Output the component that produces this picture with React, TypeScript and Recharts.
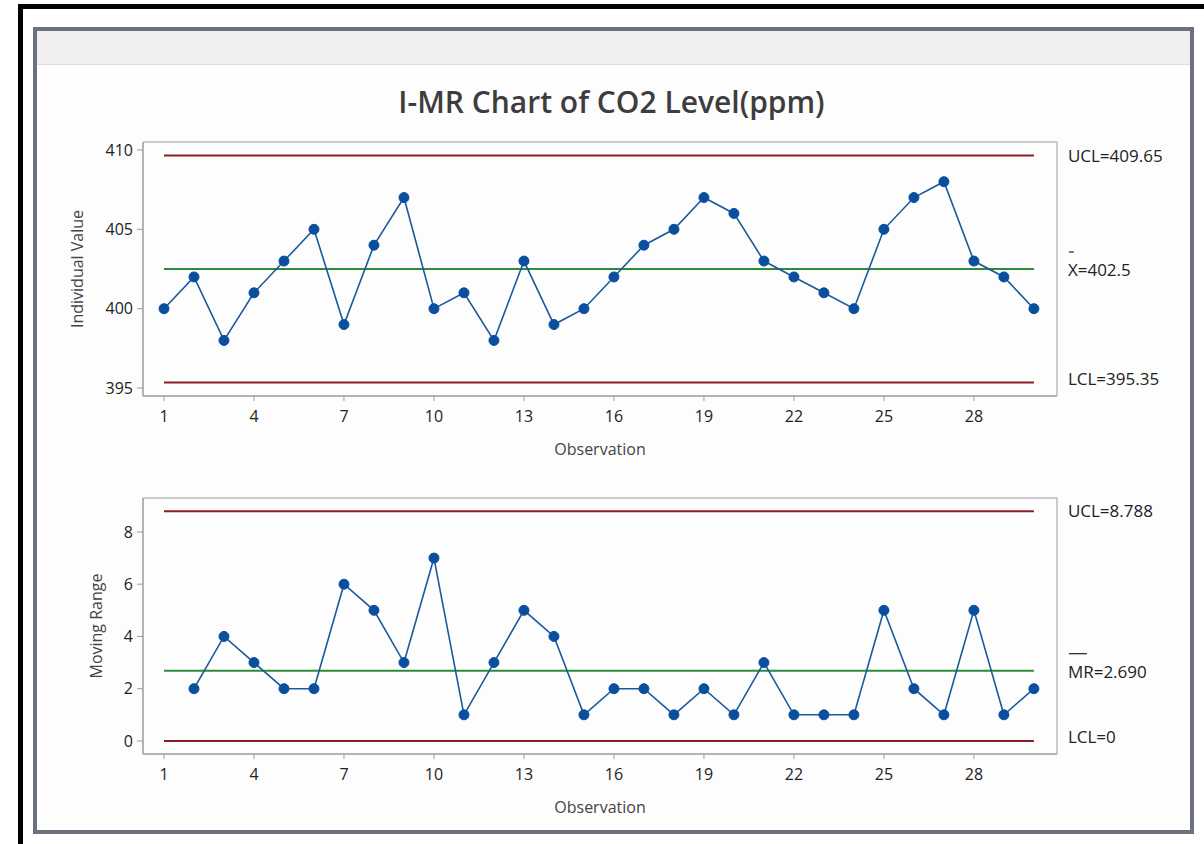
import React from "react";
import { LineChart, Line, XAxis, YAxis, ReferenceLine, ReferenceArea } from "recharts";

const FONT = "'Open Sans', 'Noto Sans', sans-serif";

// CO2 readings (ppm), one per observation
const individualValues = [
  400, 402, 398, 401, 403, 405, 399, 404, 407, 400,
  401, 398, 403, 399, 400, 402, 404, 405, 407, 406,
  403, 402, 401, 400, 405, 407, 408, 403, 402, 400,
];

// moving ranges; the first observation has none
const movingRanges = [
  null, 2, 4, 3, 2, 2, 6, 5, 3, 7,
  1, 3, 5, 4, 1, 2, 2, 1, 2, 1,
  3, 1, 1, 1, 5, 2, 1, 5, 1, 2,
];

const observationTicks = [1, 4, 7, 10, 13, 16, 19, 22, 25, 28];
const individualTicks = [395, 400, 405, 410];
const rangeTicks = [0, 2, 4, 6, 8];

const individualLimits = { ucl: 409.65, center: 402.5, lcl: 395.35 };
const rangeLimits = { ucl: 8.788, center: 2.69, lcl: 0 };

const xDomain: [number, number] = [0.3, 30.77];
const individualDomain: [number, number] = [394.5, 410.5];
const rangeDomain: [number, number] = [-0.5, 9.3];

const firstObs = 1;
const lastObs = individualValues.length;

const individualRows = individualValues.map((value, i) => ({ obs: i + 1, value }));
const rangeRows = movingRanges.map((value, i) => ({ obs: i + 1, value }));

const LIMIT_RED = "#8d1c26";
const CENTER_GREEN = "#2e8b3a";
const SERIES_BLUE = "#1b5a9a";
const DOT_BLUE = "#0a4f9e";
const FRAME_GRAY = "#9c9c9c";

function LimitLabel(props: any) {
  const { viewBox, text, bar = 0, dy = 0 } = props;
  if (!viewBox) return null;
  const x = viewBox.x + viewBox.width + 34;
  const y = viewBox.y + viewBox.height / 2 + dy;
  return (
    <g>
      {bar > 0 && (
        <line x1={x + 1} x2={x + 1 + bar} y1={y - 18} y2={y - 18} stroke="#333" strokeWidth={1.3} />
      )}
      <text x={x} y={y} dy="0.36em" fontSize={17} fill="#222" fontFamily={FONT}>
        {text}
      </text>
    </g>
  );
}

function VerticalTitle(props: any) {
  const { viewBox, text, cx } = props;
  if (!viewBox) return null;
  const cy = viewBox.y + viewBox.height / 2;
  return (
    <text
      x={cx}
      y={cy}
      dy="0.36em"
      transform={`rotate(-90 ${cx} ${cy})`}
      textAnchor="middle"
      fontSize={16}
      fill="#444"
      fontFamily={FONT}
    >
      {text}
    </text>
  );
}

function BottomTitle(props: any) {
  const { viewBox, text } = props;
  if (!viewBox) return null;
  const x = viewBox.x + viewBox.width / 2;
  const y = viewBox.y + 53;
  return (
    <text x={x} y={y} dy="0.36em" textAnchor="middle" fontSize={16} fill="#444" fontFamily={FONT}>
      {text}
    </text>
  );
}

const tickStyle = { fontSize: 16, fill: "#222", fontFamily: FONT };

interface PanelProps {
  rows: { obs: number; value: number | null }[];
  yDomain: [number, number];
  yTicks: number[];
  limits: { ucl: number; center: number; lcl: number };
  yTitle: string;
  yTitleX: number;
  xAxisHeight: number;
  digits: number;
  centerName: string;
  centerBar: number;
}

function ControlPanel({
  rows, yDomain, yTicks, limits, yTitle, yTitleX, xAxisHeight, digits, centerName, centerBar,
}: PanelProps) {
  const fmt = (v: number) => (digits > 0 && v !== 0 ? v.toFixed(digits) : String(v));
  return (
    <LineChart width={1204} height={340} data={rows} margin={{ top: 12, right: 147, bottom: 0, left: 0 }}>
      <ReferenceArea
        x1={xDomain[0]}
        x2={xDomain[1]}
        y1={yDomain[0]}
        y2={yDomain[1]}
        fill="none"
        stroke={FRAME_GRAY}
        strokeWidth={1}
        ifOverflow="visible"
      />
      <XAxis
        dataKey="obs"
        type="number"
        domain={xDomain}
        ticks={observationTicks}
        allowDataOverflow
        height={xAxisHeight}
        tick={tickStyle}
        tickSize={5}
        tickMargin={10}
        stroke={FRAME_GRAY}
        label={<BottomTitle text="Observation" />}
      />
      <YAxis
        type="number"
        domain={yDomain}
        ticks={yTicks}
        allowDataOverflow
        width={143}
        tick={tickStyle}
        tickSize={6}
        tickMargin={4}
        stroke={FRAME_GRAY}
        label={<VerticalTitle text={yTitle} cx={yTitleX} />}
      />
      <ReferenceLine
        segment={[{ x: firstObs, y: limits.ucl }, { x: lastObs, y: limits.ucl }]}
        stroke={LIMIT_RED}
        strokeWidth={2}
        label={<LimitLabel text={`UCL=${fmt(limits.ucl)}`} />}
      />
      <ReferenceLine
        segment={[{ x: firstObs, y: limits.center }, { x: lastObs, y: limits.center }]}
        stroke={CENTER_GREEN}
        strokeWidth={2}
        label={<LimitLabel text={`${centerName}=${fmt(limits.center)}`} bar={centerBar} dy={1} />}
      />
      <ReferenceLine
        segment={[{ x: firstObs, y: limits.lcl }, { x: lastObs, y: limits.lcl }]}
        stroke={LIMIT_RED}
        strokeWidth={2}
        label={<LimitLabel text={`LCL=${fmt(limits.lcl)}`} dy={-4} />}
      />
      <Line
        type="linear"
        dataKey="value"
        stroke={SERIES_BLUE}
        strokeWidth={1.6}
        dot={{ r: 5, fill: DOT_BLUE, stroke: DOT_BLUE, strokeWidth: 1 }}
        activeDot={false}
        connectNulls={false}
        isAnimationActive={false}
      />
    </LineChart>
  );
}

export default function App() {
  return (
    <div
      style={{
        position: "absolute",
        left: 0,
        top: 0,
        width: 1204,
        height: 844,
        background: "#ffffff",
        fontFamily: FONT,
        overflow: "hidden",
      }}
    >
      {/* outer black edge */}
      <div
        style={{
          position: "absolute",
          left: 18,
          top: 4,
          width: 1186,
          height: 840,
          borderLeft: "5px solid #000",
          borderTop: "5px solid #000",
          boxSizing: "border-box",
        }}
      />
      {/* window frame with header strip */}
      <div
        style={{
          position: "absolute",
          left: 33,
          top: 27,
          width: 1161,
          height: 807,
          border: "4px solid #6c727d",
          boxSizing: "border-box",
          background: "#fdfdfe",
        }}
      >
        <div style={{ height: 33, background: "#f0f0f2", borderBottom: "1px solid #dedee2" }} />
      </div>
      <div
        style={{
          position: "absolute",
          left: 0,
          top: 87,
          width: 1223,
          textAlign: "center",
          fontSize: 30,
          lineHeight: "30px",
          fontWeight: 600,
          color: "#3d3d3d",
        }}
      >
        I-MR Chart of CO2 Level(ppm)
      </div>
      <div style={{ position: "absolute", left: 0, top: 130 }}>
        <ControlPanel
          rows={individualRows}
          yDomain={individualDomain}
          yTicks={individualTicks}
          limits={individualLimits}
          yTitle="Individual Value"
          yTitleX={77}
          xAxisHeight={74}
          digits={0}
          centerName="X"
          centerBar={5}
        />
      </div>
      <div style={{ position: "absolute", left: 0, top: 486 }}>
        <ControlPanel
          rows={rangeRows}
          yDomain={rangeDomain}
          yTicks={rangeTicks}
          limits={rangeLimits}
          yTitle="Moving Range"
          yTitleX={96}
          xAxisHeight={72}
          digits={3}
          centerName="MR"
          centerBar={18}
        />
      </div>
    </div>
  );
}
